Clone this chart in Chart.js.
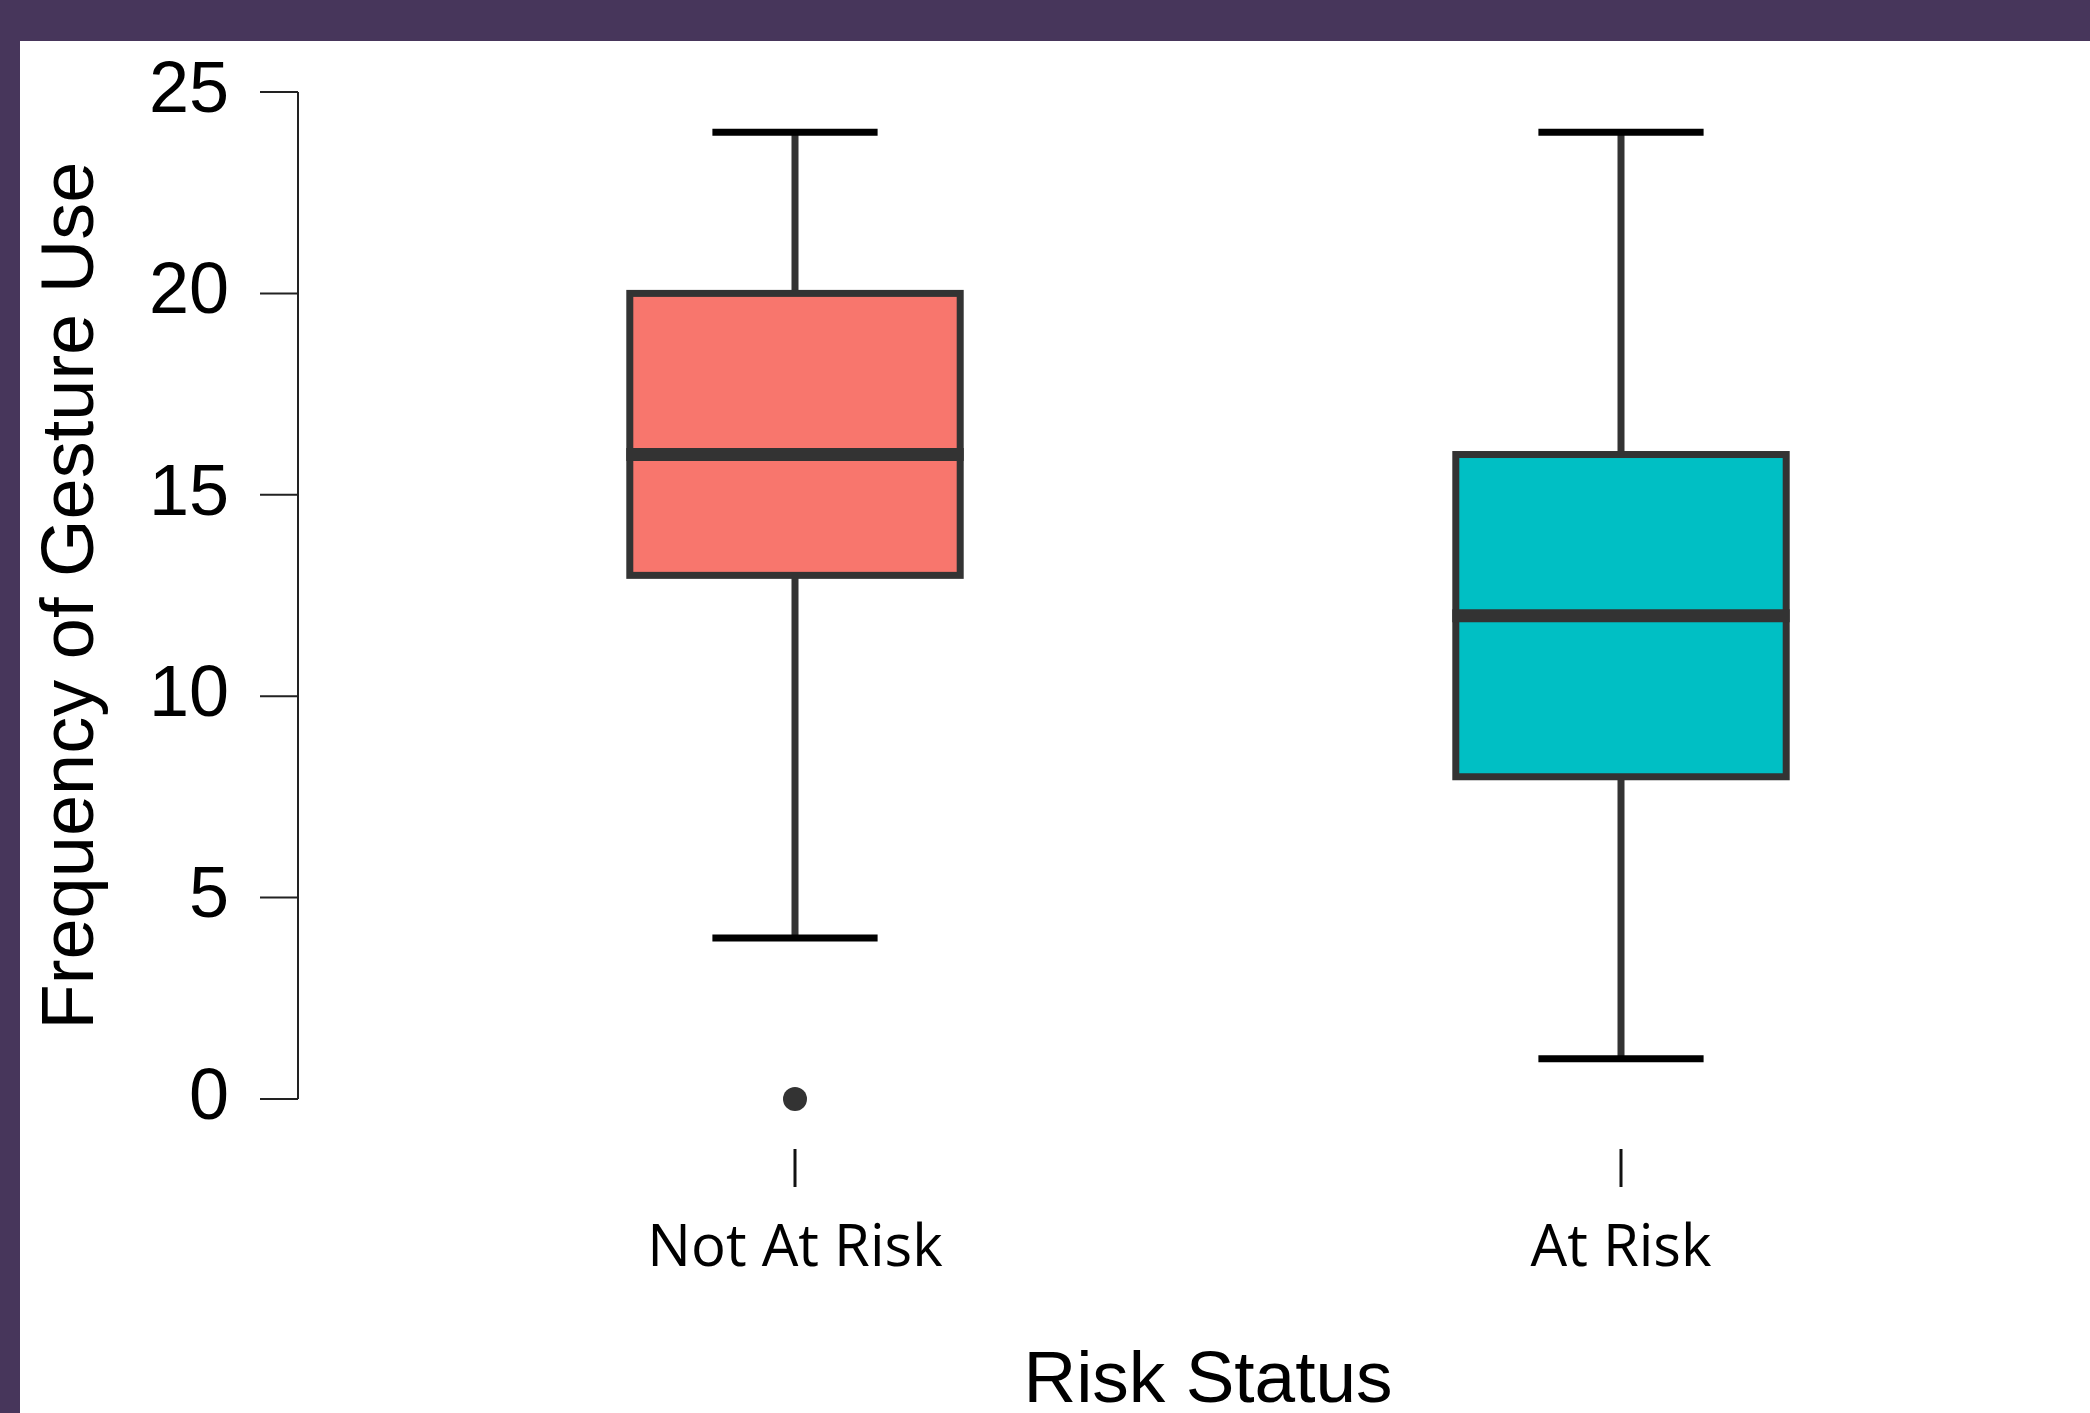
<!DOCTYPE html>
<html>
<head>
<meta charset="utf-8">
<title>Frequency of Gesture Use by Risk Status</title>
<script src="https://cdn.jsdelivr.net/npm/chart.js@4/dist/chart.umd.min.js"></script>
<style>
  html, body { margin: 0; padding: 0; overflow: hidden; }
  body { width: 2090px; height: 1413px; background: #47365b; position: relative; }
  #panel { position: absolute; left: 20px; top: 41px; width: 2070px; height: 1372px; background: #ffffff; }
</style>
</head>
<body>
<div id="panel"><canvas id="boxChart"></canvas></div>
<script>
const categories = ['Not At Risk', 'At Risk'];
const q1Values = [13, 8];
const medianValues = [16, 12];
const q3Values = [20, 16];
const whiskerLow = [4, 1];
const whiskerHigh = [24, 24];
const outlierValues = [[0], []];
const boxColors = ['#F8766D', '#00BFC4'];
const yTicks = [0, 5, 10, 15, 20, 25];

const outlierPoints = [];
categories.forEach(function (cat, i) {
    outlierValues[i].forEach(function (v) { outlierPoints.push({ x: cat, y: v }); });
});

// Bigotes, mediana, contorno de las cajas y ejes estilo R
const boxplotPlugin = {
    id: 'boxplotPlugin',
    afterDatasetsDraw(chart) {
        const ctx = chart.ctx;
        const xScale = chart.scales.x;
        const yScale = chart.scales.y;
        const meta = chart.getDatasetMeta(0);
        ctx.save();
        ctx.lineCap = 'butt';
        meta.data.forEach(function (bar, i) {
            const props = bar.getProps(['x', 'width'], true);
            const cx = props.x;
            const w = props.width;
            const yQ1 = yScale.getPixelForValue(q1Values[i]);
            const yQ3 = yScale.getPixelForValue(q3Values[i]);
            const yMed = yScale.getPixelForValue(medianValues[i]);
            const yLo = yScale.getPixelForValue(whiskerLow[i]);
            const yHi = yScale.getPixelForValue(whiskerHigh[i]);

            // bigotes
            ctx.strokeStyle = '#333333';
            ctx.lineWidth = 7;
            ctx.beginPath();
            ctx.moveTo(cx, yQ3); ctx.lineTo(cx, yHi);
            ctx.moveTo(cx, yQ1); ctx.lineTo(cx, yLo);
            ctx.stroke();

            // remates
            ctx.strokeStyle = '#000000';
            ctx.beginPath();
            ctx.moveTo(cx - w / 4, yHi); ctx.lineTo(cx + w / 4, yHi);
            ctx.moveTo(cx - w / 4, yLo); ctx.lineTo(cx + w / 4, yLo);
            ctx.stroke();

            // contorno de la caja
            ctx.strokeStyle = '#333333';
            ctx.lineWidth = 7;
            ctx.strokeRect(cx - w / 2, yQ3, w, yQ1 - yQ3);

            // mediana
            ctx.lineWidth = 13;
            ctx.beginPath();
            ctx.moveTo(cx - w / 2 - 3.5, yMed); ctx.lineTo(cx + w / 2 + 3.5, yMed);
            ctx.stroke();
        });

        // eje Y
        const axisX = chart.chartArea.left - 84;
        ctx.strokeStyle = '#222222';
        ctx.lineWidth = 2;
        ctx.beginPath();
        ctx.moveTo(axisX, yScale.getPixelForValue(yTicks[0]));
        ctx.lineTo(axisX, yScale.getPixelForValue(yTicks[yTicks.length - 1]));
        yTicks.forEach(function (v) {
            const y = yScale.getPixelForValue(v);
            ctx.moveTo(axisX - 38, y); ctx.lineTo(axisX, y);
        });
        ctx.stroke();

        // marcas del eje X
        ctx.strokeStyle = '#111111';
        ctx.lineWidth = 3;
        ctx.beginPath();
        categories.forEach(function (c, i) {
            const x = xScale.getPixelForValue(i);
            ctx.moveTo(x, chart.chartArea.bottom + 50);
            ctx.lineTo(x, chart.chartArea.bottom + 88);
        });
        ctx.stroke();
        ctx.restore();
    }
};

document.addEventListener('DOMContentLoaded', function () {
    const chartEl = document.getElementById('boxChart');
    if (!chartEl || typeof Chart === 'undefined') return;
    try {
        new Chart(chartEl.getContext('2d'), {
            data: {
                labels: categories,
                datasets: [{
                    type: 'bar',
                    label: 'IQR',
                    data: categories.map(function (c, i) { return [q1Values[i], q3Values[i]]; }),
                    backgroundColor: boxColors,
                    borderWidth: 0,
                    barPercentage: 0.4,
                    categoryPercentage: 1
                }, {
                    type: 'line',
                    label: 'Outliers',
                    data: outlierPoints,
                    showLine: false,
                    pointRadius: 12,
                    pointBackgroundColor: '#333333',
                    pointBorderWidth: 0,
                    clip: false
                }]
            },
            options: {
                responsive: true,
                maintainAspectRatio: false,
                animation: false,
                layout: { padding: { top: 51, right: 56, bottom: 0, left: 0 } },
                plugins: {
                    legend: { display: false },
                    tooltip: { enabled: false }
                },
                scales: {
                    x: {
                        type: 'category',
                        offset: true,
                        grid: { display: false, drawTicks: false },
                        border: { display: false },
                        ticks: {
                            color: '#000000',
                            padding: 116,
                            font: { family: '"Open Sans", sans-serif', size: 58 }
                        },
                        title: {
                            display: true,
                            text: 'Risk Status',
                            color: '#000000',
                            padding: { top: 0, bottom: 0 },
                            font: { family: '"Liberation Sans", Arial, sans-serif', size: 73, lineHeight: 0.85 }
                        },
                        afterFit: function (scale) { scale.height = 314; }
                    },
                    y: {
                        min: 0,
                        max: 25,
                        // marcas invisibles: solo sirven para separar las etiquetas del área
                        grid: { display: true, color: 'rgba(0,0,0,0)', drawOnChartArea: false, drawTicks: true, tickLength: 153 },
                        border: { display: false },
                        afterBuildTicks: function (scale) {
                            scale.ticks = yTicks.map(function (v) { return { value: v }; });
                        },
                        ticks: {
                            color: '#000000',
                            padding: 0,
                            font: { family: '"Liberation Sans", Arial, sans-serif', size: 72 }
                        },
                        title: {
                            display: true,
                            text: 'Frequency of Gesture Use',
                            color: '#000000',
                            padding: { top: 16, bottom: 0 },
                            font: { family: '"Liberation Sans", Arial, sans-serif', size: 74, lineHeight: 1 }
                        },
                        afterFit: function (scale) { scale.width = 362; }
                    }
                }
            },
            plugins: [boxplotPlugin]
        });
    } catch (err) {
        console.error('Error al dibujar el diagrama de cajas:', err);
    }
});
</script>
</body>
</html>
